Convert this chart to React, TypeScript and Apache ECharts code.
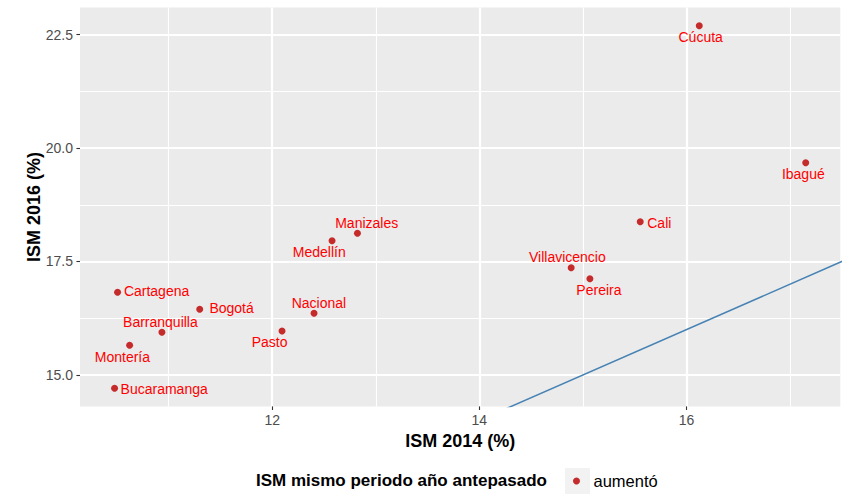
import React, { useEffect, useRef } from "react";
import * as echarts from "echarts";

// ---- data ----
const cities = [
  "Cúcuta", "Ibagué", "Cali", "Manizales", "Medellín", "Villavicencio", "Pereira",
  "Cartagena", "Bogotá", "Nacional", "Pasto", "Barranquilla", "Montería", "Bucaramanga",
];
const ism2014 = [16.124, 17.152, 15.554, 12.823, 12.578, 14.887, 15.068, 10.507, 11.3, 12.404, 12.095, 10.935, 10.623, 10.478];
const ism2016 = [22.694, 19.676, 18.377, 18.121, 17.958, 17.363, 17.121, 16.822, 16.447, 16.359, 15.969, 15.941, 15.654, 14.707];

const xMajorTicks = [12, 14, 16];
const xMinorTicks = [11, 13, 15, 17];
const yMajorTicks = [15, 17.5, 20, 22.5];
const yMinorTicks = [16.25, 18.75, 21.25];

// reference line y = x
const refLine = [
  [14, 14],
  [18, 18],
];

const legendTitle = "ISM mismo periodo año antepasado";
const legendLabel = "aumentó";
const xTitle = "ISM 2014 (%)";
const yTitle = "ISM 2016 (%)";

// ---- label placement (pixel offsets of each label from its point) ----
const labelPlacement: Array<[number, number, string]> = [
  [1.4, 11, "center"],
  [-2.4, 11.3, "center"],
  [7, 1.6, "left"],
  [9.3, -10, "center"],
  [-12.8, 11, "center"],
  [-3.8, -10.7, "center"],
  [9, 11.3, "center"],
  [6.3, -1.6, "left"],
  [9.7, -1, "left"],
  [4.9, -10, "center"],
  [-12.5, 10.7, "center"],
  [-1.5, -10, "center"],
  [-7.2, 11.4, "center"],
  [6, 0.7, "left"],
];

// ggplot-style expanded ranges (5%)
const X_MIN = 10.144;
const X_MAX = 17.486;
const Y_MIN = 14.308;
const Y_MAX = 23.093;

const FONT = "'Liberation Sans', Arial, Helvetica, sans-serif";

export default function App() {
  const ref = useRef<HTMLDivElement>(null);

  useEffect(() => {
    if (!ref.current) return;
    const chart = echarts.init(ref.current, null, { renderer: "svg" });

    const scatterData = cities.map((name, i) => {
      const [dx, dy, align] = labelPlacement[i];
      return {
        name,
        value: [ism2014[i], ism2016[i]],
        label: { offset: [dx, dy], align },
      };
    });

    const minorAxisCommon = {
      type: "value",
      axisLine: { show: false },
      axisLabel: { show: false },
    };

    chart.setOption({
      animation: false,
      backgroundColor: "#FFFFFF",
      textStyle: { fontFamily: FONT },
      grid: {
        left: 80,
        right: 3.7,
        top: 7.6,
        bottom: 88.6,
        show: true,
        backgroundColor: "#EBEBEB",
        borderWidth: 0,
      },
      xAxis: [
        {
          ...minorAxisCommon,
          min: X_MIN,
          max: X_MAX,
          axisTick: { show: false, customValues: xMinorTicks },
          splitLine: { show: true, lineStyle: { color: "#FFFFFF", width: 1.1 } },
        },
        {
          type: "value",
          min: X_MIN,
          max: X_MAX,
          position: "bottom",
          axisLine: { show: false },
          axisTick: {
            show: true,
            length: 3.6,
            customValues: xMajorTicks,
            lineStyle: { color: "#333333", width: 1.1 },
          },
          axisLabel: {
            customValues: xMajorTicks,
            color: "#4D4D4D",
            fontSize: 14,
            margin: 7,
            fontFamily: FONT,
          },
          splitLine: { show: true, lineStyle: { color: "#FFFFFF", width: 2.2 } },
          name: xTitle,
          nameLocation: "middle",
          nameGap: 22,
          nameTextStyle: { color: "#000000", fontSize: 18, fontWeight: "bold", fontFamily: FONT },
        },
      ],
      yAxis: [
        {
          ...minorAxisCommon,
          min: Y_MIN,
          max: Y_MAX,
          axisTick: { show: false, customValues: yMinorTicks },
          splitLine: { show: true, lineStyle: { color: "#FFFFFF", width: 1.1 } },
        },
        {
          type: "value",
          min: Y_MIN,
          max: Y_MAX,
          position: "left",
          axisLine: { show: false },
          axisTick: {
            show: true,
            length: 3.6,
            customValues: yMajorTicks,
            lineStyle: { color: "#333333", width: 1.1 },
          },
          axisLabel: {
            customValues: yMajorTicks,
            color: "#4D4D4D",
            fontSize: 14,
            margin: 7,
            fontFamily: FONT,
            formatter: (v: number) => v.toFixed(1),
          },
          splitLine: { show: true, lineStyle: { color: "#FFFFFF", width: 2.2 } },
          name: yTitle,
          nameLocation: "middle",
          nameGap: 37,
          nameMoveOverlap: false,
          nameRotate: 90,
          nameTextStyle: { color: "#000000", fontSize: 18, fontWeight: "bold", fontFamily: FONT },
        },
      ],
      legend: {
        show: true,
        data: [legendLabel],
        left: 573,
        top: 472,
        padding: 0,
        itemWidth: 24,
        itemHeight: 7,
        icon: "circle",
        itemGap: 0,
        itemStyle: { opacity: 1 },
        textStyle: { color: "#000000", fontSize: 16.5, fontFamily: FONT, lineHeight: 18 },
        selectedMode: false,
      },
      graphic: [
        {
          type: "rect",
          left: 565,
          top: 468,
          shape: { width: 25, height: 26 },
          style: { fill: "#F2F2F2" },
          z: -1,
        },
        {
          type: "text",
          left: 256,
          top: 472,
          style: {
            text: legendTitle,
            fill: "#000000",
            font: `bold 17px ${FONT}`,
          },
        },
      ],
      series: [
        {
          type: "line",
          xAxisIndex: 1,
          yAxisIndex: 1,
          data: refLine,
          showSymbol: false,
          symbol: "none",
          clip: true,
          silent: true,
          lineStyle: { color: "#4682B4", width: 1.5 },
          z: 2,
        },
        {
          type: "scatter",
          name: legendLabel,
          xAxisIndex: 1,
          yAxisIndex: 1,
          data: scatterData,
          symbol: "circle",
          symbolSize: 7,
          itemStyle: { color: "#C62B2B", opacity: 1 },
          label: {
            show: true,
            position: "inside",
            formatter: "{b}",
            color: "#FF0000",
            opacity: 1,
            fontSize: 14,
            fontFamily: FONT,
            verticalAlign: "middle",
            textBorderWidth: 0,
          },
          emphasis: { disabled: true },
          z: 3,
        },
      ],
    });

    return () => chart.dispose();
  }, []);

  return (
    <div
      ref={ref}
      style={{ position: "fixed", left: 0, top: 0, width: 844, height: 495 }}
    />
  );
}
